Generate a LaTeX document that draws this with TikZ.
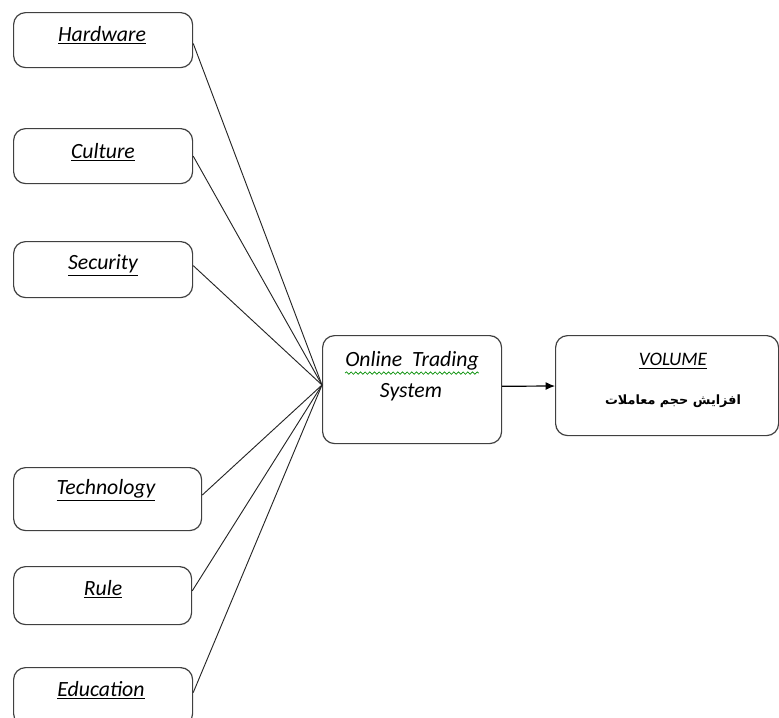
\documentclass[tikz,border=0pt]{standalone}
\usepackage{fontspec}
\setmainfont{Carlito}
\newfontfamily\arabicfont[Script=Arabic]{DejaVu Sans}
\TeXXeTstate=1
\usetikzlibrary{arrows.meta,decorations.pathmorphing}
\begin{document}
\begin{tikzpicture}[x=0.75pt,y=-0.75pt,
  boxnode/.style={draw=black!75,line width=0.9pt,rounded corners=9pt,anchor=north west,inner sep=0pt},
  lbl/.style={font=\fontsize{16.3}{19}\selectfont\itshape,inner sep=0pt},
  conn/.style={draw=black!85,line width=0.7pt}]
\useasboundingbox (0,0) rectangle (779,718);
% left boxes
\node[boxnode,minimum width=179*0.75pt,minimum height=55*0.75pt] (hw) at (13,12) {};
\node[lbl] (hwt) at (102,35.5) {\underline{Hardware}};
\node[boxnode,minimum width=179*0.75pt,minimum height=55*0.75pt] (cu) at (13,128) {};
\node[lbl] (cut) at (103,152.5) {\underline{Culture}};
\node[boxnode,minimum width=179*0.75pt,minimum height=56*0.75pt] (se) at (13,241) {};
\node[lbl] (set) at (103,265.5) {\underline{Security}};
\node[boxnode,minimum width=188*0.75pt,minimum height=63*0.75pt] (te) at (13,467) {};
\node[lbl] (tet) at (106,490.5) {\underline{Technology}};
\node[boxnode,minimum width=178*0.75pt,minimum height=58*0.75pt] (ru) at (13,566) {};
\node[lbl] (rut) at (103,589.5) {\underline{Rule}};
\node[boxnode,minimum width=179*0.75pt,minimum height=58*0.75pt] (ed) at (13,667) {};
\node[lbl] (edt) at (101,690.5) {\underline{Education}};
% center box
\node[boxnode,minimum width=179*0.75pt,minimum height=108*0.75pt] (ots) at (322,335) {};
\node[lbl] (ots1) at (412,361) {Online\ \ Trading};
\node[lbl] (ots2) at (411,392) {System};
\draw[green!55!black,line width=0.5pt,decorate,decoration={snake,amplitude=0.9pt,segment length=3.5pt}]
  ([yshift=-1.8pt]ots1.south west) -- ([yshift=-1.8pt]ots1.south east);
% right box
\node[boxnode,minimum width=223*0.75pt,minimum height=100*0.75pt] (vol) at (555,335) {};
\node[lbl,font=\fontsize{14.3}{17}\selectfont\itshape] (volt) at (673,361) {\underline{VOLUME}};
\node[inner sep=0pt,font=\arabicfont\bfseries\fontsize{9.6}{11}\selectfont] (volar) at (673,401) {\beginR افزایش حجم معاملات\endR};
% connectors
\coordinate (conv) at (322,385);
\draw[conn] ([yshift=-2.5pt]hw.east) -- (conv);
\draw[conn] (cu.east) -- (conv);
\draw[conn] ([yshift=3pt]se.east) -- (conv);
\draw[conn] ([yshift=3pt]te.east) -- (conv);
\draw[conn] ([yshift=3.5pt]ru.east) -- (conv);
\draw[conn] ([yshift=3pt]ed.east) -- (conv);
\draw[conn,black,line width=0.9pt,-{Latex[length=7pt,width=6pt]}] ([yshift=2.5pt]ots.east) -- ([yshift=-0.3pt]vol.west);
\end{tikzpicture}
\end{document}
